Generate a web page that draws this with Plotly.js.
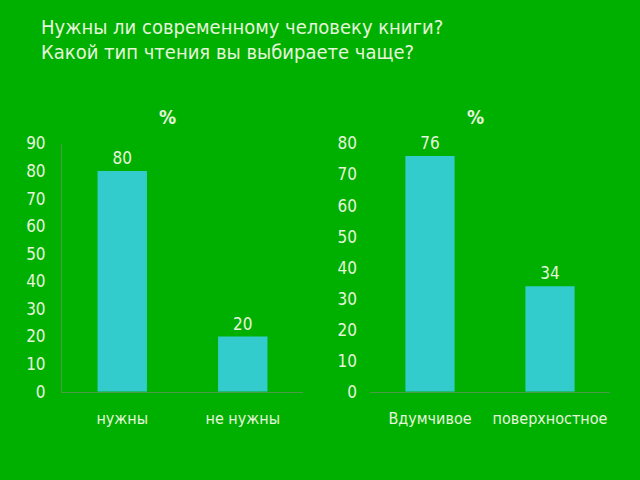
<!DOCTYPE html>
<html><head><meta charset="utf-8">
<script src="https://cdn.plot.ly/plotly-3.0.1.min.js"></script>
<style>html,body{margin:0;padding:0;background:#00b000;}</style>
</head><body>
<div id="chart" style="width:640px;height:480px;"></div>
<script>
const catsLeft = ["нужны", "не нужны"];
const valsLeft = [80, 20];
const catsRight = ["Вдумчивое", "поверхностное"];
const valsRight = [76, 34];
const titleLines = ["Нужны ли современному человеку книги?", "Какой тип чтения вы выбираете чаще?"];
const subTitle = "%";

const txt = "#e6f5dc";
const barColor = "#33cccc";
const fam = "DejaVu Sans Condensed, DejaVu Sans";
const font = {family: fam, size: 17, color: txt};
const catFont = {family: fam, size: 16, color: txt};

const traces = [
  {type: "bar", x: catsLeft, y: valsLeft, xaxis: "x", yaxis: "y",
   marker: {color: barColor}, text: valsLeft.map(String), textposition: "outside",
   textfont: font, cliponaxis: false, hoverinfo: "none"},
  {type: "bar", x: catsRight, y: valsRight, xaxis: "x2", yaxis: "y2",
   marker: {color: barColor}, text: valsRight.map(String), textposition: "outside",
   textfont: font, cliponaxis: false, hoverinfo: "none"}
];

const axLine = "#4f9a48";
const layout = {
  width: 640, height: 480,
  paper_bgcolor: "#00b000", plot_bgcolor: "#00b000",
  margin: {l: 0, r: 0, t: 0, b: 0},
  showlegend: false,
  bargap: 0.59,
  font: font,
  xaxis: {domain: [62/640, 303/640], anchor: "y", showline: true, linecolor: axLine,
          ticks: "", tickfont: catFont, showgrid: false, zeroline: false, ticklabelstandoff: 12},
  yaxis: {domain: [0.184, 0.701], anchor: "x", range: [0, 90], dtick: 10, showline: true,
          linecolor: axLine, ticks: "", tickfont: font, showgrid: false, zeroline: false,
          ticklabelstandoff: 12},
  xaxis2: {domain: [370/640, 610/640], anchor: "y2", showline: true, linecolor: axLine,
           ticks: "", tickfont: catFont, showgrid: false, zeroline: false, ticklabelstandoff: 12},
  yaxis2: {domain: [0.184, 0.701], anchor: "x2", range: [0, 80], dtick: 10, showline: false,
           ticks: "", tickfont: font, showgrid: false, zeroline: false,
           ticklabelstandoff: 12},
  annotations: [
    {text: titleLines[0], xref: "paper", yref: "paper", x: 39/640, y: 1 - 27/480,
     xanchor: "left", yanchor: "middle", showarrow: false,
     font: {family: fam, size: 20, color: txt}},
    {text: titleLines[1], xref: "paper", yref: "paper", x: 39/640, y: 1 - 52/480,
     xanchor: "left", yanchor: "middle", showarrow: false,
     font: {family: fam, size: 20, color: txt}},
    {text: "<b>" + subTitle + "</b>", xref: "paper", yref: "paper", x: 167/640, y: 1 - 117/480,
     xanchor: "center", yanchor: "middle", showarrow: false,
     font: {family: fam, size: 19, color: txt}},
    {text: "<b>" + subTitle + "</b>", xref: "paper", yref: "paper", x: 475/640, y: 1 - 117/480,
     xanchor: "center", yanchor: "middle", showarrow: false,
     font: {family: fam, size: 19, color: txt}}
  ]
};
Plotly.newPlot("chart", traces, layout, {displayModeBar: false, staticPlot: true});
</script>
</body></html>
